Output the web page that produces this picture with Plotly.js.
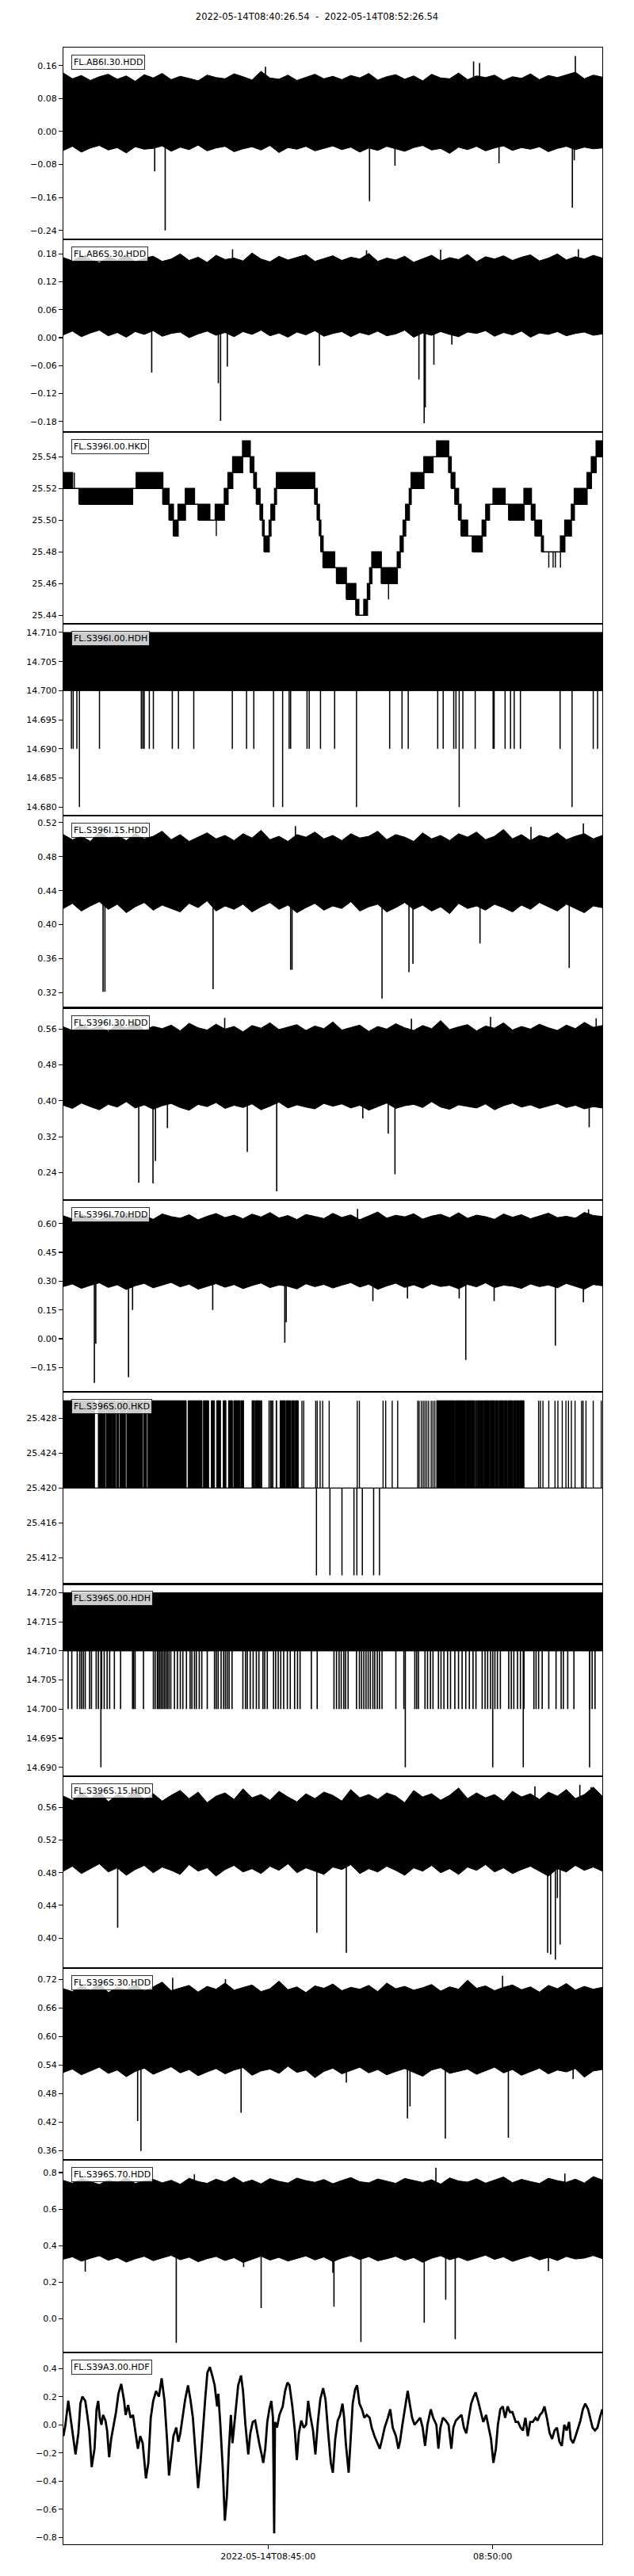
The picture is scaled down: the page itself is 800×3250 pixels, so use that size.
<!DOCTYPE html>
<html><head><meta charset="utf-8">
<script src="https://cdn.plot.ly/plotly-3.0.1.min.js"></script>
<style>body{margin:0;background:#fff}#chart{width:800px;height:3250px}</style>
</head><body><div id="chart"></div>
<script>
// ---------------- DATA ----------------
const DURATION = 720; // seconds from 2022-05-14T08:40:26.54
const titleText = "2022-05-14T08:40:26.54  -  2022-05-14T08:52:26.54";
const xTickVals = [273.46, 573.46];
const xTickText = ["2022-05-14T08:45:00", "08:50:00"];
const stationLabels = ["FL.AB6I.30.HDD","FL.AB6S.30.HDD","FL.S396I.00.HKD","FL.S396I.00.HDH","FL.S396I.15.HDD","FL.S396I.30.HDD","FL.S396I.70.HDD","FL.S396S.00.HKD","FL.S396S.00.HDH","FL.S396S.15.HDD","FL.S396S.30.HDD","FL.S396S.70.HDD","FL.S39A3.00.HDF"];

// envelope (max / min per 12 s window) of dense traces
const top1 = [0.142,0.128,0.136,0.124,0.133,0.139,0.127,0.135,0.122,0.138,0.130,0.141,0.126,0.134,0.129,0.123,0.137,0.131,0.128,0.140,0.133,0.125,0.146,0.130,0.127,0.137,0.124,0.132,0.139,0.128,0.134,0.126,0.136,0.130,0.141,0.125,0.133,0.138,0.127,0.135,0.123,0.139,0.130,0.128,0.142,0.126,0.135,0.131,0.137,0.124,0.133,0.129,0.140,0.126,0.136,0.131,0.138,0.144,0.128,0.137,0.132];
const bot1 = [-0.046,-0.036,-0.050,-0.040,-0.034,-0.045,-0.039,-0.052,-0.037,-0.043,-0.041,-0.035,-0.048,-0.038,-0.044,-0.033,-0.047,-0.040,-0.036,-0.049,-0.042,-0.037,-0.045,-0.034,-0.051,-0.039,-0.043,-0.036,-0.047,-0.041,-0.035,-0.044,-0.038,-0.050,-0.040,-0.046,-0.036,-0.042,-0.048,-0.039,-0.034,-0.045,-0.041,-0.053,-0.038,-0.044,-0.036,-0.047,-0.040,-0.035,-0.046,-0.039,-0.043,-0.037,-0.049,-0.041,-0.036,-0.044,-0.038,-0.042,-0.040];
const dn1T = [122,136,409,443,582,680,682.5];
const dn1V = [-0.097,-0.24,-0.169,-0.083,-0.077,-0.185,-0.07];
const up1T = [270,548,556,684];
const up1V = [0.157,0.17,0.166,0.183];

const top2 = [0.172,0.165,0.176,0.168,0.161,0.174,0.166,0.179,0.163,0.171,0.175,0.164,0.169,0.180,0.166,0.173,0.162,0.177,0.168,0.171,0.165,0.182,0.169,0.163,0.175,0.167,0.172,0.178,0.164,0.170,0.176,0.166,0.173,0.169,0.181,0.164,0.171,0.167,0.175,0.162,0.170,0.177,0.165,0.172,0.168,0.179,0.163,0.174,0.169,0.176,0.166,0.173,0.178,0.165,0.171,0.180,0.167,0.174,0.169,0.177,0.171];
const bot2 = [0.006,0.014,0.002,0.010,0.016,0.004,0.011,0.001,0.013,0.007,0.015,0.003,0.009,0.012,0.000,0.008,0.014,0.005,0.011,0.002,0.013,0.007,0.016,0.004,0.010,0.001,0.012,0.006,0.015,0.003,0.009,0.013,0.002,0.011,0.006,0.014,0.004,0.008,0.016,0.001,0.010,0.005,0.013,0.007,0.002,0.012,0.009,0.015,0.003,0.011,0.006,0.014,0.001,0.010,0.007,0.013,0.004,0.009,0.012,0.005,0.008];
const dn2T = [118,207,210,219,342,475,482,483.5,495,519];
const dn2V = [-0.075,-0.098,-0.179,-0.062,-0.06,-0.09,-0.184,-0.15,-0.058,-0.015];
const up2T = [226,405,504,688];
const up2V = [0.19,0.188,0.189,0.19];

const top5 = [0.506,0.500,0.504,0.498,0.509,0.502,0.505,0.499,0.507,0.501,0.504,0.510,0.500,0.506,0.498,0.503,0.508,0.501,0.505,0.499,0.507,0.502,0.511,0.500,0.504,0.498,0.506,0.503,0.509,0.501,0.505,0.499,0.507,0.502,0.504,0.510,0.500,0.506,0.503,0.498,0.508,0.501,0.505,0.499,0.507,0.503,0.509,0.500,0.504,0.512,0.501,0.506,0.499,0.505,0.502,0.508,0.500,0.504,0.507,0.501,0.505];
const bot5 = [0.419,0.425,0.416,0.422,0.427,0.418,0.424,0.414,0.421,0.426,0.417,0.423,0.419,0.415,0.425,0.420,0.428,0.416,0.422,0.418,0.424,0.415,0.421,0.426,0.418,0.423,0.414,0.420,0.425,0.417,0.422,0.419,0.427,0.416,0.421,0.424,0.415,0.420,0.426,0.418,0.423,0.416,0.421,0.413,0.425,0.419,0.422,0.417,0.424,0.420,0.415,0.423,0.418,0.426,0.421,0.416,0.424,0.419,0.414,0.422,0.420];
const dn5T = [53,55.5,200,303.6,305.5,425.7,461.7,467,556.6,675.8];
const dn5V = [0.321,0.321,0.324,0.347,0.347,0.313,0.344,0.354,0.378,0.349];
const up5T = [310,624.7,694.7];
const up5V = [0.516,0.515,0.519];

const top6 = [0.565,0.557,0.570,0.560,0.567,0.555,0.572,0.562,0.575,0.558,0.566,0.561,0.569,0.556,0.573,0.563,0.558,0.571,0.560,0.566,0.554,0.568,0.562,0.574,0.559,0.565,0.570,0.557,0.567,0.561,0.576,0.558,0.564,0.569,0.555,0.566,0.560,0.572,0.563,0.557,0.568,0.561,0.579,0.559,0.565,0.570,0.556,0.567,0.562,0.574,0.558,0.566,0.560,0.571,0.563,0.557,0.569,0.561,0.575,0.564,0.568];
const bot6 = [0.390,0.383,0.395,0.387,0.380,0.392,0.386,0.398,0.384,0.391,0.381,0.389,0.394,0.385,0.379,0.392,0.387,0.396,0.383,0.390,0.385,0.393,0.380,0.388,0.397,0.384,0.391,0.386,0.382,0.394,0.388,0.393,0.384,0.390,0.379,0.387,0.395,0.383,0.389,0.392,0.385,0.398,0.386,0.381,0.391,0.388,0.384,0.393,0.380,0.389,0.395,0.386,0.391,0.383,0.388,0.394,0.385,0.390,0.382,0.387,0.384];
const dn6T = [100.7,119.7,123,139,245.7,285,400,434,443,702.5];
const dn6V = [0.217,0.216,0.266,0.339,0.286,0.198,0.361,0.327,0.236,0.341];
const up6T = [215.5,465,570.7,711.8];
const up6V = [0.585,0.583,0.587,0.584];

const top7 = [0.640,0.624,0.648,0.630,0.618,0.645,0.633,0.655,0.627,0.641,0.622,0.650,0.636,0.628,0.646,0.619,0.638,0.652,0.631,0.644,0.625,0.649,0.634,0.657,0.629,0.642,0.621,0.647,0.637,0.626,0.653,0.632,0.645,0.620,0.640,0.660,0.628,0.643,0.635,0.651,0.623,0.639,0.648,0.630,0.656,0.627,0.644,0.636,0.622,0.650,0.633,0.646,0.625,0.641,0.654,0.631,0.638,0.628,0.658,0.642,0.637];
const bot7 = [0.272,0.285,0.262,0.278,0.291,0.267,0.281,0.256,0.276,0.288,0.265,0.279,0.293,0.270,0.284,0.258,0.274,0.287,0.268,0.282,0.261,0.277,0.290,0.266,0.280,0.273,0.259,0.286,0.271,0.283,0.264,0.279,0.292,0.269,0.284,0.257,0.275,0.289,0.267,0.281,0.263,0.286,0.272,0.278,0.260,0.283,0.270,0.291,0.266,0.279,0.274,0.262,0.285,0.271,0.280,0.265,0.288,0.273,0.258,0.282,0.276];
const dn7T = [41.4,43.3,87,92.4,199.5,295.8,297.7,413.5,459.7,528.8,537.6,575.5,657.3,694.7];
const dn7V = [-0.23,-0.026,-0.20,0.15,0.15,-0.02,0.086,0.196,0.21,0.21,-0.11,0.196,-0.036,0.19];
const up7T = [393,701.6];
const up7V = [0.676,0.674];

const top10 = [0.574,0.569,0.578,0.571,0.580,0.567,0.576,0.572,0.582,0.570,0.577,0.568,0.575,0.581,0.571,0.579,0.566,0.574,0.578,0.570,0.583,0.572,0.576,0.569,0.580,0.573,0.567,0.577,0.571,0.579,0.575,0.568,0.582,0.572,0.576,0.570,0.578,0.574,0.566,0.581,0.573,0.577,0.569,0.575,0.584,0.571,0.578,0.572,0.576,0.568,0.580,0.573,0.577,0.570,0.579,0.574,0.582,0.571,0.576,0.585,0.574];
const bot10 = [0.482,0.488,0.479,0.485,0.491,0.481,0.486,0.477,0.484,0.489,0.480,0.487,0.483,0.478,0.490,0.482,0.486,0.476,0.484,0.489,0.481,0.485,0.479,0.488,0.483,0.491,0.480,0.486,0.482,0.478,0.487,0.484,0.490,0.479,0.485,0.481,0.488,0.483,0.477,0.486,0.482,0.489,0.480,0.485,0.478,0.487,0.483,0.490,0.481,0.486,0.479,0.484,0.488,0.482,0.476,0.485,0.481,0.489,0.483,0.487,0.482];
const dn10T = [72.5,338.6,378,647,651,657.3,660,663.6];
const dn10V = [0.4126,0.4065,0.382,0.382,0.380,0.3735,0.449,0.392];
const up10T = [630,690,705];
const up10V = [0.586,0.588,0.585];

const top11 = [0.700,0.694,0.706,0.697,0.711,0.692,0.703,0.698,0.709,0.695,0.704,0.714,0.696,0.701,0.707,0.693,0.705,0.699,0.712,0.697,0.703,0.708,0.694,0.700,0.716,0.698,0.704,0.692,0.706,0.701,0.710,0.696,0.703,0.699,0.707,0.694,0.712,0.700,0.705,0.697,0.702,0.709,0.695,0.704,0.699,0.718,0.701,0.706,0.696,0.703,0.708,0.698,0.704,0.693,0.707,0.700,0.711,0.697,0.705,0.699,0.703];
const bot11 = [0.524,0.531,0.519,0.527,0.535,0.522,0.529,0.515,0.526,0.533,0.520,0.528,0.536,0.523,0.530,0.517,0.525,0.532,0.521,0.529,0.534,0.518,0.527,0.531,0.522,0.537,0.524,0.529,0.513,0.526,0.533,0.521,0.528,0.535,0.523,0.530,0.519,0.526,0.532,0.524,0.516,0.529,0.534,0.522,0.527,0.531,0.520,0.528,0.535,0.523,0.530,0.518,0.526,0.533,0.521,0.529,0.525,0.532,0.514,0.527,0.530];
const dn11T = [99.2,103.6,237.4,378,459.7,463.1,510.3,594.5,681];
const dn11V = [0.4217,0.359,0.4395,0.5025,0.4273,0.4525,0.385,0.387,0.51];
const up11T = [146,216.5,586.7];
const up11V = [0.723,0.72,0.727];

const top12 = [0.757,0.742,0.766,0.749,0.735,0.760,0.746,0.772,0.740,0.755,0.763,0.744,0.758,0.736,0.769,0.751,0.741,0.764,0.748,0.775,0.745,0.759,0.738,0.767,0.752,0.743,0.770,0.756,0.747,0.762,0.739,0.757,0.773,0.750,0.744,0.765,0.753,0.741,0.768,0.758,0.746,0.761,0.737,0.771,0.754,0.748,0.766,0.742,0.759,0.776,0.745,0.763,0.751,0.740,0.769,0.756,0.747,0.764,0.743,0.778,0.760];
const bot12 = [0.325,0.338,0.314,0.330,0.344,0.319,0.334,0.309,0.327,0.341,0.317,0.332,0.346,0.322,0.336,0.311,0.328,0.340,0.318,0.333,0.307,0.326,0.342,0.320,0.335,0.315,0.329,0.343,0.321,0.337,0.312,0.331,0.345,0.323,0.339,0.316,0.327,0.341,0.319,0.334,0.308,0.330,0.344,0.322,0.336,0.317,0.332,0.347,0.324,0.338,0.313,0.329,0.343,0.321,0.335,0.318,0.340,0.326,0.331,0.345,0.328];
const dn12T = [29.2,150.8,240.8,264.2,360,361.5,397.5,482.1,510.8,523.5,648];
const dn12V = [0.2565,-0.133,0.282,0.0565,0.25,0.065,-0.129,-0.0235,0.103,-0.114,0.26];
const up12T = [175,497.7,670];
const up12V = [0.79,0.826,0.795];

// FL.S396I.00.HKD : step segments (start time, low, high); segment ends at next start
const hkdI_t = [0,12.2,20.9,92.4,97.3,132.8,141.1,146.9,153.2,163.0,175.1,180.0,195.6,202.9,215.0,219.9,226.2,239.4,249.6,254.4,257.8,262.7,266.1,268.1,274.9,277.3,282.2,284.6,335.7,339.1,342.0,343.9,346.9,362.4,364.9,378.0,390.7,394.6,401.4,406.2,409.2,412.1,424.7,446.1,450.0,453.9,457.3,462.2,464.6,481.6,493.8,498.7,514.7,518.1,523.0,527.9,531.3,540.0,546.3,559.5,564.3,569.2,574.1,590.1,594.9,615.4,625.2,630.0,638.8,641.2,664.1,669.9,678.7,682.6,699.6,705.4,711.8];
const hkdI_lo = [25.52,25.52,25.51,25.52,25.52,25.51,25.50,25.49,25.50,25.51,25.51,25.50,25.50,25.50,25.51,25.52,25.53,25.54,25.53,25.52,25.51,25.50,25.49,25.48,25.49,25.50,25.51,25.52,25.51,25.50,25.49,25.48,25.47,25.47,25.46,25.45,25.44,25.44,25.44,25.45,25.46,25.47,25.46,25.47,25.48,25.49,25.50,25.51,25.52,25.53,25.54,25.54,25.53,25.52,25.51,25.50,25.49,25.49,25.48,25.49,25.50,25.51,25.51,25.51,25.50,25.51,25.50,25.49,25.48,25.48,25.48,25.49,25.50,25.51,25.52,25.53,25.54];
const hkdI_hi = [25.53,25.52,25.52,25.52,25.53,25.52,25.51,25.50,25.51,25.52,25.51,25.51,25.50,25.51,25.52,25.53,25.54,25.55,25.54,25.53,25.52,25.51,25.50,25.49,25.50,25.51,25.52,25.53,25.52,25.51,25.50,25.49,25.48,25.47,25.47,25.46,25.45,25.44,25.45,25.46,25.47,25.48,25.47,25.48,25.49,25.50,25.51,25.52,25.53,25.54,25.54,25.55,25.54,25.53,25.52,25.51,25.50,25.49,25.49,25.50,25.51,25.51,25.52,25.51,25.51,25.52,25.51,25.50,25.49,25.48,25.49,25.50,25.51,25.52,25.53,25.54,25.55];
const hkdI_spT = [14.6,204.3,434.4,648.5,654.3,657.3,664.1];
const hkdI_spFrom = [25.52,25.50,25.46,25.48,25.48,25.48,25.48];
const hkdI_spTo = [25.53,25.49,25.45,25.47,25.47,25.47,25.47];

// FL.S396I.00.HDH : toggles 14.700/14.710, drops
const hdhI_band = [14.700, 14.710];
const hdhI_dipA = [10.7,13.1,18.0,48.2,104.1,106.1,108.0,114.8,120.2,145.5,153.7,174.2,225.7,244.7,254.4,301.6,303.6,325.5,328.4,343.5,362.4,435.9,452.4,460.7,500.1,507.4,521.5,524.5,533.7,550.2,574.1,575.5,590.1,597.4,602.3,610.6,663.6,707.9,713.7];
const hdhI_dipAval = 14.690;
const hdhI_dipB = [21.4,280.7,292.9,391.6,528.8,679.6];
const hdhI_dipBval = 14.680;

// FL.S396S.00.HKD : toggles 25.420/25.430
const hkdS_band = [25.420, 25.430];
const hkdS_t0 = [0,46.6,53.6,57.2,66.0,71.6,75.8,84.7,107.6,113.0,166.6,187.1,197.6,204.7,213.5,220.6,227.6,237,252,256,263.5,274.5,277,279.3,284.2,289.5,297.5,305,309.5,498.7,523.5,538,550.5,553,557.5,561.5,569.8,577,582,589.3,594,601.3,606.2,609.6];
const hkdS_t1 = [41.6,52.9,55.8,65.3,70.0,74.1,82.9,105.9,111.2,164.1,185.3,194.1,201.9,210.0,217.1,225.9,236,240.8,255,262.7,265,275.3,277.8,280.1,285,296.5,304,308.5,313.8,522.5,537.2,549.5,552,556.8,560.7,569,576.2,581,588.5,593.2,600.5,605.4,609,615.4];
const hkdS_lines = [216.5,221.4,318.7,321.1,337.1,339.1,343.0,346.4,355.1,392.6,395.5,427.1,430.6,439.3,446.6,473.4,475.3,478.2,480.7,483.1,485.5,488.0,491.4,493.8,496.2,634.9,637.3,640.7,648.5,656.8,660.7,666.5,671.4,674.8,678.7,683.6,692.3,694.3,698.2,707.9,718.6];
const hkdS_dips = [338.1,356.1,372.2,388.2,392.1,399.4,414.5,422.3];
const hkdS_dipVal = 25.410;

// FL.S396S.00.HDH : toggles 14.710/14.720, drops
const hdhS_band = [14.710, 14.720];
const hdhS_dipA = [6.3,11.2,18.5,21.9,24.3,26.8,29.2,35.0,37.5,43.8,46.7,51.1,54.5,58.4,61.8,68.1,76.4,92.4,93.9,95.8,107.0,120.2,122.6,125.5,127,129,131,133,135,137,139,141.1,143.5,148.4,152.3,156.2,159.6,164.4,169.3,171.7,175.1,177.6,181.5,184.9,192.2,201.9,204.3,206.8,210.7,214.1,216.5,218.9,221.4,225.3,239.8,243.3,245.7,249.6,253.5,257.8,261.2,266.6,269.0,272.4,280.7,283.6,287.0,290.4,294.3,299.2,303.1,308.9,312.8,316.2,331.3,339.1,361.5,364.9,368.3,371.2,374.6,377.0,380.4,391.6,395.5,398.4,401.4,404.3,407.2,410.1,413.5,416.0,419.4,422.3,425.7,444.2,454.9,469.5,471.9,474.3,483.1,486.5,490.4,493.8,501.1,504.5,508.4,513.3,517.2,523.0,527.9,532.7,537.6,542.4,547.3,551.2,559.5,563.4,566.8,570.7,576.5,579.9,583.8,595.0,598.4,601.8,606.7,610.6,615.4,628.6,631.5,634.9,639.7,648.5,658.2,665.0,668.0,673.8,682.1,703.0,706.4,710.3];
const hdhS_dipAval = 14.700;
const hdhS_dipB = [50.1,456.8,573.6,614.4,703.0];
const hdhS_dipBval = 14.690;

// FL.S39A3.00.HDF waveform
const hdfT = [0,2.7,6.5,9.2,13.0,16.2,20.0,22.7,25.4,29.2,31.9,34.6,37.8,41.6,44.3,46.5,48.6,50.8,53.0,56.2,58.4,61.1,63.8,67.0,70.3,73.5,77.3,81.1,83.2,86.5,89.7,93.0,96.2,99.5,102.7,105.9,110.3,113.5,116.7,120.0,123.8,127.6,131.3,135.1,138.4,141.1,144.3,147.0,150.8,153.5,156.2,158.9,162.7,166.5,169.7,173.0,176.2,180.0,183.2,186.5,189.7,192.4,195.7,198.9,202.1,205.4,207.0,209.7,213.0,215.7,218.4,221.1,223.8,225.9,229.2,233.5,237.3,240.0,243.2,247.0,249.7,253.0,256.2,258.4,261.6,264.8,267.0,269.7,272.4,275.1,277.8,280.0,281.6,282.7,285.4,288.6,293.0,296.2,299.4,302.1,305.9,309.2,311.9,314.6,317.8,321.1,324.3,327.0,329.7,333.5,336.7,340.0,343.2,347.0,350.2,353.5,357.3,360.0,363.2,366.5,369.7,372.9,375.1,377.3,381.1,383.8,386.5,389.7,392.4,395.6,398.9,402.1,405.4,409.2,411.9,415.6,418.9,422.7,425.9,429.2,433.5,436.7,440.0,444.3,447.5,449.7,452.9,456.7,460.0,462.7,465.9,469.2,472.4,476.7,480.0,483.2,486.4,490.8,494.0,498.3,501.0,503.7,507.0,510.8,514.6,518.3,521.0,524.3,528.1,531.9,535.1,538.3,541.6,544.8,548.1,550.8,554.0,557.8,561.0,564.8,567.5,571.3,574.5,577.8,580.5,583.7,587.0,590.2,593.5,596.7,599.9,604.3,607.5,610.8,614.0,617.3,620.5,623.7,627.0,630.8,633.5,636.7,640.0,642.7,645.9,649.7,652.9,656.2,659.4,662.7,665.9,669.2,672.4,675.6,677.8,681.0,684.3,687.5,690.8,694.0,697.2,701.0,703.7,707.0,710.2,713.5,716.7,720.0];
const hdfV = [-0.08,0.00,0.17,0.07,-0.10,-0.21,-0.06,0.15,0.20,0.17,0.07,-0.04,-0.30,-0.17,0.11,0.17,0.05,0.00,0.07,0.03,-0.04,-0.23,-0.10,0.00,0.09,0.22,0.29,0.17,0.07,0.14,0.05,0.07,-0.04,-0.17,-0.08,-0.13,-0.38,-0.27,0.05,0.17,0.24,0.20,0.33,0.17,-0.10,-0.36,-0.21,-0.08,-0.02,-0.12,-0.06,0.05,0.18,0.28,0.18,0.05,-0.17,-0.45,-0.27,0.00,0.20,0.37,0.41,0.35,0.28,0.13,0.22,0.00,-0.32,-0.68,-0.51,-0.17,0.07,-0.13,0.05,0.28,0.35,0.24,0.00,-0.21,-0.06,0.02,0.03,-0.04,-0.13,-0.21,-0.27,-0.17,0.02,0.11,0.17,0.05,-0.77,0.02,-0.02,0.07,0.13,0.24,0.30,0.28,0.13,-0.04,-0.25,-0.06,0.03,-0.02,0.00,0.17,0.07,-0.04,-0.21,0.02,0.18,0.26,0.18,-0.04,-0.27,-0.34,-0.10,0.03,0.07,0.15,0.05,-0.13,-0.34,-0.10,0.15,0.25,0.28,0.15,0.11,0.05,0.07,0.05,-0.02,-0.08,-0.12,-0.17,-0.10,-0.02,0.05,0.11,-0.02,-0.08,-0.17,-0.12,0.00,0.13,0.24,0.15,0.05,0.00,0.02,0.05,-0.02,-0.15,0.00,0.11,0.05,0.00,-0.17,-0.02,0.05,0.03,0.00,-0.17,-0.02,0.03,0.05,0.07,-0.02,-0.06,0.05,0.15,0.20,0.23,0.17,0.09,0.02,0.07,0.00,-0.10,-0.27,-0.17,0.00,0.11,0.13,0.05,0.13,0.09,0.09,0.02,0.02,-0.02,-0.04,0.05,-0.08,0.02,0.02,0.05,0.03,0.07,0.09,0.13,0.05,-0.06,-0.10,-0.04,-0.02,-0.12,-0.15,0.00,-0.04,0.02,-0.10,-0.13,-0.08,-0.02,0.03,0.11,0.15,0.11,0.05,-0.02,-0.04,-0.02,0.05,0.11];

// axis settings per panel
const yRanges = [[-0.2623,0.2037],[-0.202,0.2107],[25.4347,25.5558],[14.6785,14.7115],[0.3021,0.5281],[0.179,0.6074],[-0.277,0.723],[25.409,25.431],[14.6885,14.7215],[0.3631,0.5986],[0.3395,0.7433],[-0.185,0.868],[-0.848,0.515]];
const yDtick = [0.08,0.06,0.02,0.005,0.04,0.08,0.15,0.004,0.005,0.04,0.06,0.2,0.2];
const yFmt = ['.2f','.2f','.2f','.3f','.2f','.2f','.2f','.3f','.3f','.2f','.2f','.1f','.1f'];

// ---------------- BUILD ----------------
const FONT = 'DejaVu Sans, Verdana, sans-serif';
const N = 13;
const traces = [];
function ax(k){ return {xaxis: k===1?'x':'x'+k, yaxis: k===1?'y':'y'+k}; }
function base(k){ return Object.assign({type:'scatter', mode:'lines', hoverinfo:'skip', showlegend:false}, ax(k)); }

function envelope(k, top, bot){
  const n = Math.min(top.length, bot.length);
  const step = DURATION/(n-1);
  const xs=[], ys=[];
  for(let i=0;i<n;i++){ xs.push(i*step); ys.push(top[i]); }
  for(let i=n-1;i>=0;i--){ xs.push(i*step); ys.push(bot[i]); }
  xs.push(0); ys.push(top[0]);
  traces.push(Object.assign(base(k), {x:xs, y:ys, fill:'toself', fillcolor:'#000', line:{color:'#000', width:1}}));
}
function spikesFromEnv(k, ts, vs, top, bot){
  const n = top.length, step = DURATION/(n-1);
  const xs=[], ys=[];
  ts.forEach((t,i)=>{
    const j = Math.max(0, Math.min(n-1, Math.round(t/step)));
    const mid = (top[j]+bot[j])/2;
    xs.push(t,t,null); ys.push(mid, vs[i], null);
  });
  traces.push(Object.assign(base(k), {x:xs, y:ys, line:{color:'#000', width:1.6}}));
}
function vlines(k, ts, from, to, w){
  const xs=[], ys=[];
  ts.forEach((t,i)=>{ const f = Array.isArray(from)?from[i]:from; const e = Array.isArray(to)?to[i]:to; xs.push(t,t,null); ys.push(f,e,null); });
  traces.push(Object.assign(base(k), {x:xs, y:ys, line:{color:'#000', width:w||1.2}}));
}
function rects(k, t0s, t1s, los, his, w){
  const xs=[], ys=[];
  t0s.forEach((t0,i)=>{
    const t1 = t1s[i], lo = Array.isArray(los)?los[i]:los, hi = Array.isArray(his)?his[i]:his;
    xs.push(t0,t1,t1,t0,t0,null); ys.push(lo,lo,hi,hi,lo,null);
  });
  traces.push(Object.assign(base(k), {x:xs, y:ys, fill:'toself', fillcolor:'#000', line:{color:'#000', width:w||1}}));
}

// dense noise panels
[[1,top1,bot1,dn1T,dn1V,up1T,up1V],[2,top2,bot2,dn2T,dn2V,up2T,up2V],[5,top5,bot5,dn5T,dn5V,up5T,up5V],
 [6,top6,bot6,dn6T,dn6V,up6T,up6V],[7,top7,bot7,dn7T,dn7V,up7T,up7V],[10,top10,bot10,dn10T,dn10V,up10T,up10V],
 [11,top11,bot11,dn11T,dn11V,up11T,up11V],[12,top12,bot12,dn12T,dn12V,up12T,up12V]].forEach(p=>{
  envelope(p[0], p[1], p[2]);
  spikesFromEnv(p[0], p[3], p[4], p[1], p[2]);
  spikesFromEnv(p[0], p[5], p[6], p[1], p[2]);
});

// Panel 3: HKD steps
(function(){
  const t1 = hkdI_t.slice(1).concat([DURATION]);
  rects(3, hkdI_t, t1, hkdI_lo, hkdI_hi, 1.6);
  vlines(3, hkdI_spT, hkdI_spFrom, hkdI_spTo, 1.4);
})();

// Panel 4: HDH
rects(4, [0], [DURATION], hdhI_band[0], hdhI_band[1], 1);
vlines(4, hdhI_dipA, hdhI_band[0], hdhI_dipAval, 1.5);
vlines(4, hdhI_dipB, hdhI_band[0], hdhI_dipBval, 1.5);

// Panel 8: HKD S
traces.push(Object.assign(base(8), {x:[0,DURATION], y:[hkdS_band[0],hkdS_band[0]], line:{color:'#000', width:1.2}}));
rects(8, hkdS_t0, hkdS_t1, hkdS_band[0], hkdS_band[1], 1);
vlines(8, hkdS_lines, hkdS_band[0], hkdS_band[1], 1.4);
vlines(8, hkdS_dips, hkdS_band[0], hkdS_dipVal, 1.5);

// Panel 9: HDH S
rects(9, [0], [DURATION], hdhS_band[0], hdhS_band[1], 1);
vlines(9, hdhS_dipA, hdhS_band[0], hdhS_dipAval, 1.6);
vlines(9, hdhS_dipB, hdhS_band[0], hdhS_dipBval, 1.6);

// Panel 13: HDF
traces.push(Object.assign(base(13), {x:hdfT.slice(0, Math.min(hdfT.length, hdfV.length)), y:hdfV, line:{color:'#000', width:2.8}}));

// layout
const layout = {
  width:800, height:3250,
  margin:{l:80, r:40, t:60, b:40},
  paper_bgcolor:'#fff', plot_bgcolor:'#fff',
  font:{family:FONT, size:11, color:'#000'},
  title:{text:titleText, font:{family:FONT, size:11.5, color:'#000'}, x:0.5, xref:'container', xanchor:'center', y:1-21/3250, yref:'container', yanchor:'middle'},
  showlegend:false,
  annotations:[]
};
for(let k=1;k<=N;k++){
  const xn = k===1?'xaxis':'xaxis'+k, yn = k===1?'yaxis':'yaxis'+k;
  const last = (k===N);
  layout[xn] = {
    domain:[0,1], anchor: k===1?'y':'y'+k, range:[0,DURATION], type:'linear',
    showline:true, mirror:true, linecolor:'#000', linewidth:1.1,
    showgrid:false, zeroline:false, fixedrange:true,
    tickmode:'array', tickvals: last?xTickVals:[], ticktext: last?xTickText:[],
    ticks: last?'outside':'', ticklen:5, tickwidth:1.1, tickcolor:'#000',
    showticklabels:last, tickfont:{family:FONT, size:11, color:'#000'}
  };
  if(k>1) layout[xn].matches = 'x';
  layout[yn] = {
    domain:[1-k/N, 1-(k-1)/N], anchor: k===1?'x':'x'+k,
    range: yRanges[k-1], tick0:0, dtick: yDtick[k-1], tickformat: yFmt[k-1],
    showline:true, mirror:true, linecolor:'#000', linewidth:1.1,
    showgrid:false, zeroline:false, fixedrange:true,
    ticks:'outside', ticklen:5, tickwidth:1.1, tickcolor:'#000',
    tickfont:{family:FONT, size:11, color:'#000'}
  };
  layout.annotations.push({
    text: stationLabels[k-1], showarrow:false,
    xref: (k===1?'x':'x'+k)+' domain', yref: (k===1?'y':'y'+k)+' domain',
    x:0, y:1, xanchor:'left', yanchor:'top', xshift:10, yshift:-9,
    bgcolor:'rgba(255,255,255,0.8)', bordercolor:'rgba(0,0,0,0.8)', borderwidth:1, borderpad:2,
    font:{family:FONT, size:11, color:'#000'}
  });
}
Plotly.newPlot('chart', traces, layout, {staticPlot:true, displayModeBar:false});
</script></body></html>
